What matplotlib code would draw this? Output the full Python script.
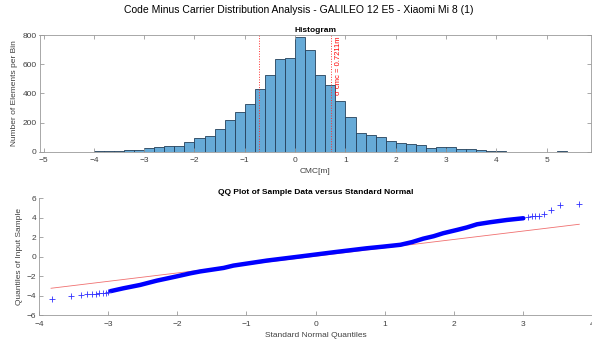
import numpy as np
import matplotlib
matplotlib.use("Agg")
from matplotlib import pyplot as plt

plt.rcParams['font.family'] = ['Liberation Sans', 'DejaVu Sans']

# histogram of CMC values, bins of 0.2 m starting at -5
bin_edges = np.round(np.arange(-5.0, 5.61, 0.2), 1)
bin_counts = [0, 0, 0, 1, 1, 4, 4, 8, 13, 10, 23, 30, 37, 37, 66, 91, 110, 153,
              219, 270, 325, 427, 523, 635, 640, 784, 699, 526, 457, 345, 238,
              130, 112, 99, 73, 57, 56, 46, 25, 34, 30, 16, 16, 9, 2, 2, 1, 0,
              0, 1, 0, 2, 0]
sigma_cmc = 0.7211

# QQ plot: dense part of the curve and sparse tails
qq_band_x = [-2.97, -2.78, -2.54, -2.30, -2.03, -1.81, -1.67, -1.33, -1.19, -0.70,
             -0.22, 0.26, 0.74, 0.98, 1.23, 1.40, 1.56, 1.71, 1.85, 2.05, 2.19,
             2.34, 2.53, 2.77, 3.01]
qq_band_y = [-3.55, -3.25, -2.91, -2.47, -2.06, -1.71, -1.52, -1.16, -0.92, -0.40,
             0.02, 0.45, 0.86, 1.03, 1.22, 1.50, 1.85, 2.10, 2.41, 2.75, 3.00,
             3.33, 3.54, 3.77, 3.95]
qq_tail_x = [-3.82, -3.54, -3.40, -3.31, -3.24, -3.18, -3.13, -3.08, -3.04, -3.01,
             3.08, 3.13, 3.18, 3.24, 3.31, 3.41, 3.54, 3.82]
qq_tail_y = [-4.38, -4.07, -3.94, -3.87, -3.84, -3.80, -3.77, -3.73, -3.70, -3.66,
             4.08, 4.15, 4.18, 4.22, 4.36, 4.80, 5.32, 5.39]
qq_line_x = [-3.83, 3.82]
qq_line_y = [-3.25, 3.33]

spine_c = '#9a9a9a'
text_c = '#404040'

fig = plt.figure(figsize=(5.92, 3.4), dpi=100)
fig.suptitle('Code Minus Carrier Distribution Analysis - GALILEO 12 E5 - Xiaomi Mi 8 (1)',
             fontsize=7.5, y=0.985, x=0.505)


def style_axes(ax, box):
    for s in ax.spines.values():
        s.set_color(spine_c)
        s.set_linewidth(0.6)
    if not box:
        ax.spines['top'].set_visible(False)
        ax.spines['right'].set_visible(False)
    ax.tick_params(direction='in', length=3, width=0.6, color=spine_c,
                   labelsize=6, labelcolor=text_c, top=box, right=box)
    ax.tick_params(axis='x', pad=4)
    ax.tick_params(axis='y', pad=2)


# histogram
ax1 = fig.add_axes([39.5 / 592, 1 - 151.7 / 340, (591 - 39.5) / 592, (151.7 - 35) / 340])
ax1.hist(bin_edges[:-1], bins=bin_edges, weights=bin_counts,
         color='#66aad7', edgecolor='#24405a', linewidth=0.6)
ax1.axvline(-sigma_cmc, color='#ff3030', linestyle=':', linewidth=0.7)
ax1.axvline(sigma_cmc, color='#ff3030', linestyle=':', linewidth=0.7)
ax1.text(sigma_cmc + 0.14, max(bin_counts) / 2, '\u03c3 cmc = %.4fm' % sigma_cmc,
         rotation=90, color='red', fontsize=5.5, ha='center', va='bottom')
ax1.set_xlim(-5.08, 5.88)
ax1.set_ylim(0, 800)
ax1.set_xticks(range(-5, 6))
ax1.set_yticks([0, 200, 400, 600, 800])
ax1.set_title('Histogram', fontsize=6, fontweight='bold', pad=2)
ax1.set_xlabel('CMC[m]', fontsize=6, color=text_c, labelpad=3)
ax1.set_ylabel('Number of Elements per Bin', fontsize=6, color=text_c, labelpad=3)
style_axes(ax1, True)

# QQ plot
ax2 = fig.add_axes([39.3 / 592, 1 - 315 / 340, (591.7 - 39.3) / 592, (315 - 198.3) / 340])
ax2.plot(qq_line_x, qq_line_y, color='#f07070', linewidth=0.6, linestyle='-')
ax2.plot(qq_band_x, qq_band_y, color='#0000ff', linewidth=3.2, solid_capstyle='round')
ax2.plot(qq_tail_x, qq_tail_y, linestyle='none', marker='+', color='#3030ff',
         markersize=4, markeredgewidth=0.6)
ax2.set_xlim(-4, 4)
ax2.set_ylim(-6, 6)
ax2.set_xticks(range(-4, 5))
ax2.set_yticks(range(-6, 7, 2))
ax2.set_title('QQ Plot of Sample Data versus Standard Normal', fontsize=6,
              fontweight='bold', pad=3)
ax2.set_xlabel('Standard Normal Quantiles', fontsize=6, color=text_c, labelpad=3)
ax2.set_ylabel('Quantiles of Input Sample', fontsize=6, color=text_c, labelpad=3)
style_axes(ax2, False)

fig.savefig('out.png', dpi=100)
